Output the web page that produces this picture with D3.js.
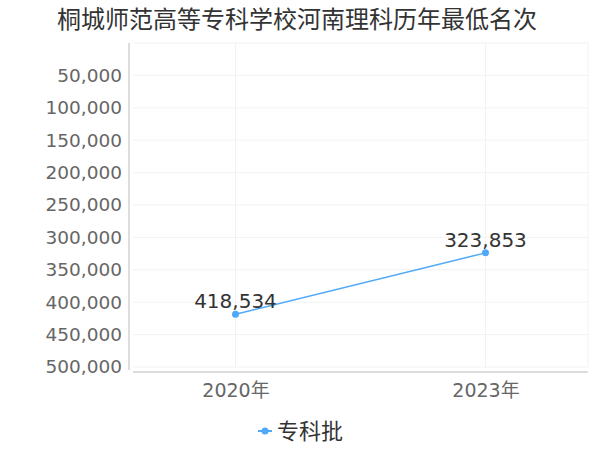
<!DOCTYPE html>
<html>
<head>
<meta charset="utf-8">
<script src="https://cdn.jsdelivr.net/npm/d3@7"></script>
<style>
  body { margin: 0; background: #fff; }
  svg { display: block; font-family: "DejaVu Sans", "Noto Sans CJK SC", sans-serif; }
</style>
</head>
<body>
<div id="chart"></div>
<script>
// data
const years = ["2020年", "2023年"];
const ranks = [418534, 323853];
const yTicks = [50000, 100000, 150000, 200000, 250000, 300000, 350000, 400000, 450000, 500000];
const seriesName = "专科批";
const title = "桐城师范高等专科学校河南理科历年最低名次";

const width = 600, height = 450;
const lineCol = "#4fa8f9";
const plotLeft = 133, plotRight = 588, plotTop = 43, plotBottom = 367, axisY = 372;

const svg = d3.select("#chart").append("svg")
    .attr("width", width)
    .attr("height", height);

// scales
const x = d3.scalePoint()
    .domain(years)
    .range([plotLeft, plotRight])
    .padding(0.41);

const y = d3.scaleLinear()
    .domain([0, 500000])
    .range([plotTop, plotBottom]);

// grid
svg.append("g")
    .selectAll("line")
    .data(yTicks)
    .join("line")
    .attr("x1", plotLeft).attr("x2", plotRight)
    .attr("y1", d => y(d)).attr("y2", d => y(d))
    .attr("stroke", "#f2f2f2");

svg.append("g")
    .selectAll("line")
    .data(years)
    .join("line")
    .attr("x1", d => x(d)).attr("x2", d => x(d))
    .attr("y1", plotTop).attr("y2", plotBottom)
    .attr("stroke", "#f2f2f2");

svg.append("line")
    .attr("x1", plotRight).attr("x2", plotRight)
    .attr("y1", plotTop).attr("y2", plotBottom)
    .attr("stroke", "#f2f2f2");
svg.append("line")
    .attr("x1", plotLeft).attr("x2", plotRight)
    .attr("y1", plotTop).attr("y2", plotTop)
    .attr("stroke", "#f2f2f2");

// y axis
const yAxis = svg.append("g")
    .attr("transform", `translate(129,0)`)
    .call(d3.axisLeft(y).tickValues(yTicks).tickSize(0).tickFormat(d3.format(",")));
yAxis.select(".domain").attr("stroke", "#bbb").attr("d", `M0,${plotTop}V${axisY - 2}`);
yAxis.selectAll(".tick text")
    .attr("x", -7)
    .attr("fill", "#666")
    .style("font-size", "18.5px")
    .style("font-family", "DejaVu Sans, sans-serif");

// x axis
const xAxis = svg.append("g")
    .attr("transform", `translate(0,${axisY})`)
    .call(d3.axisBottom(x).tickSize(0));
xAxis.select(".domain").attr("stroke", "#bbb").attr("d", `M${plotLeft},0H${plotRight}`);
xAxis.selectAll(".tick text")
    .attr("y", 12)
    .attr("fill", "#666")
    .style("font-size", "19px")
    .style("font-family", "DejaVu Sans, Noto Sans CJK SC, sans-serif");

// line
const pts = years.map((d, i) => ({ year: d, value: ranks[i] }));

svg.append("path")
    .datum(pts)
    .attr("fill", "none")
    .attr("stroke", lineCol)
    .attr("stroke-width", 1.5)
    .attr("d", d3.line().x(d => x(d.year)).y(d => y(d.value)));

svg.append("g")
    .selectAll("circle")
    .data(pts)
    .join("circle")
    .attr("cx", d => x(d.year))
    .attr("cy", d => y(d.value))
    .attr("r", 3.5)
    .attr("fill", lineCol);

svg.append("g")
    .selectAll("text")
    .data(pts)
    .join("text")
    .attr("x", d => x(d.year))
    .attr("y", d => y(d.value) - 6)
    .attr("text-anchor", "middle")
    .attr("fill", "#333")
    .style("font-size", "20px")
    .text(d => d3.format(",")(d.value));

// title
svg.append("text")
    .attr("x", 297)
    .attr("y", 28)
    .attr("text-anchor", "middle")
    .attr("fill", "#333")
    .style("font-family", "Noto Sans CJK SC, sans-serif")
    .style("font-size", "24px")
    .text(title);

// legend
const lg = svg.append("g").attr("transform", "translate(258,431)");
lg.append("line").attr("x1", 0).attr("x2", 14).attr("stroke", lineCol).attr("stroke-width", 2);
lg.append("circle").attr("cx", 7).attr("r", 3.5).attr("fill", lineCol);
lg.append("text")
    .attr("x", 19)
    .attr("y", 8)
    .attr("fill", "#333")
    .style("font-family", "Noto Sans CJK SC, sans-serif")
    .style("font-size", "22px")
    .text(seriesName);
</script>
</body>
</html>
